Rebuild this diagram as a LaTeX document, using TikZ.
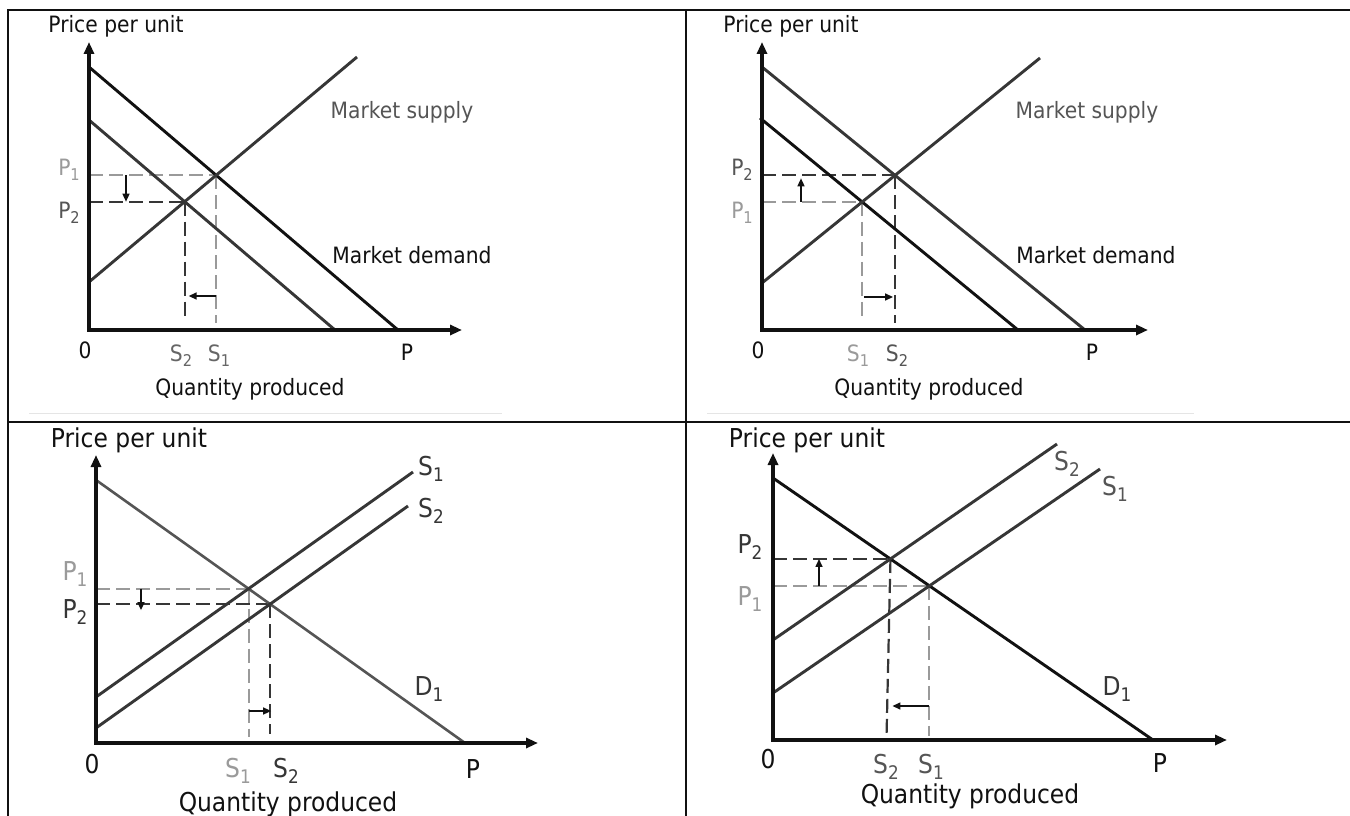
\documentclass[tikz,border=0pt]{standalone}
\usepackage{fontspec}
\setmainfont{DejaVu Sans Condensed}
\usetikzlibrary{arrows.meta}
\definecolor{ink}{HTML}{111111}
\definecolor{dk}{HTML}{363636}
\definecolor{gr}{HTML}{555555}
\definecolor{md}{HTML}{666666}
\definecolor{lt}{HTML}{9A9A9A}
\newcommand{\sbs}[1]{\raisebox{-0.24em}{\scalebox{0.72}{#1}}}
\tikzset{
  frame/.style={line width=1.8pt, draw=ink},
  faintline/.style={line width=1pt, draw=black!10},
  axes/.style={line width=3.4pt, draw=ink, line join=miter, {Triangle[length=12pt,width=10pt]}-{Triangle[length=12pt,width=10pt]}},
  curveblk/.style={line width=2.9pt, draw=ink},
  curvedk/.style={line width=2.9pt, draw=dk},
  curvegr/.style={line width=2.6pt, draw=gr},
  dashdk/.style={line width=2.2pt, draw=dk, dash pattern=on 14pt off 6pt},
  dashlt/.style={line width=2pt, draw=lt, dash pattern=on 14pt off 6pt},
  shiftarr/.style={line width=1.5pt, draw=ink, -{Triangle[length=8pt,width=7pt]}},
  toptxt/.style={inner sep=0pt, anchor=base, font=\fontsize{22.5}{27}\selectfont},
  bottxt/.style={inner sep=0pt, anchor=base, font=\fontsize{26}{31}\selectfont},
  toplab/.style={inner sep=0pt, anchor=base, font=\fontsize{22.5}{27}\selectfont},
  botlab/.style={inner sep=0pt, anchor=base, font=\fontsize{26}{31}\selectfont},
}
\begin{document}
\begin{tikzpicture}[x=1pt,y=-1pt]
\useasboundingbox (0,0) rectangle (1350,816);
\fill[white] (0,0) rectangle (1350,816);
% ---------- frame ----------
\coordinate (fBL) at (8,816); \coordinate (fTL) at (8,10); \coordinate (fTR) at (1350,10);
\coordinate (vT) at (686,10); \coordinate (vB) at (686,816);
\coordinate (hL) at (8,422); \coordinate (hR) at (1350,422);
\coordinate (g1a) at (29,413); \coordinate (g1b) at (502,413);
\coordinate (g2a) at (707,413); \coordinate (g2b) at (1194,413);
\draw[frame] (fBL) -- (fTL) -- (fTR);
\draw[frame] (vT) -- (vB);
\draw[frame] (hL) -- (hR);
\draw[faintline] (g1a) -- (g1b);
\draw[faintline] (g2a) -- (g2b);

% ================= Panel A (top left) =================
\coordinate (aO) at (89,330); \coordinate (aY) at (89,42); \coordinate (aX) at (462,330);
\coordinate (aDo1) at (89,67); \coordinate (aDo2) at (398,330);
\coordinate (aDi1) at (89,120); \coordinate (aDi2) at (335,330);
\coordinate (aS1) at (89,282); \coordinate (aS2) at (357,57);
\coordinate (aE1) at (intersection of aS1--aS2 and aDo1--aDo2);
\coordinate (aE2) at (intersection of aS1--aS2 and aDi1--aDi2);
\coordinate (aV1) at (0,323); \coordinate (aV2) at (0,318);
\coordinate (aAx) at (126,0); \coordinate (aAy) at (0,296);
\draw[dashlt] (aE1 -| aO) -- (aE1);
\draw[dashlt] (aE1) -- (aE1 |- aV1);
\draw[dashdk] (aE2 -| aO) -- (aE2);
\draw[dashdk] (aE2) -- (aE2 |- aV2);
\draw[curveblk] (aDo1) -- (aDo2);
\draw[curvedk] (aDi1) -- (aDi2);
\draw[curvedk] (aS1) -- (aS2);
\draw[axes] (aY) -- (aO) -- (aX);
\draw[shiftarr] (aAx |- aE1) -- (aAx |- aE2);
\draw[shiftarr] (aE1 |- aAy) -- ([xshift=4pt]aE2 |- aAy);
\node[toptxt, text=ink] (aTy) at (116,33) {Price per unit};
\node[toptxt, text=gr] (aTs) at (402,118) {Market supply};
\node[toptxt, text=ink] (aTd) at (412,263) {Market demand};
\node[toptxt, text=ink] (aTq) at (250,395) {Quantity produced};
\node[toplab, text=lt] (aP1) at (69,175) {P\sbs{1}};
\node[toplab, text=gr] (aP2) at (69,218) {P\sbs{2}};
\node[toplab, text=ink] (a0) at (85,358) {0};
\node[toplab, text=ink] (aP) at (407,360) {P};
\node[toplab, text=md] (aQ2) at (181,361) {S\sbs{2}};
\node[toplab, text=md] (aQ1) at (219,361) {S\sbs{1}};

% ================= Panel B (top right) =================
\coordinate (bO) at (762,330); \coordinate (bY) at (762,42); \coordinate (bX) at (1148,330);
\coordinate (bDo1) at (762,67); \coordinate (bDo2) at (1085,330);
\coordinate (bDi1) at (760,118); \coordinate (bDi2) at (1018,330);
\coordinate (bS1) at (762,283); \coordinate (bS2) at (1040,58);
\coordinate (bE2) at (intersection of bS1--bS2 and bDo1--bDo2);
\coordinate (bE1) at (intersection of bS1--bS2 and bDi1--bDi2);
\coordinate (bV1) at (0,320); \coordinate (bV2) at (0,323);
\coordinate (bAx) at (801,0); \coordinate (bAy) at (0,297); \coordinate (bAs) at (864,0);
\draw[dashdk] (bE2 -| bO) -- (bE2);
\draw[dashdk] (bE2) -- (bE2 |- bV2);
\draw[dashlt] (bE1 -| bO) -- (bE1);
\draw[dashlt] (bE1) -- (bE1 |- bV1);
\draw[curvedk] (bDo1) -- (bDo2);
\draw[curveblk] (bDi1) -- (bDi2);
\draw[curvedk] (bS1) -- (bS2);
\draw[axes] (bY) -- (bO) -- (bX);
\draw[shiftarr] (bAx |- bE1) -- ([yshift=-3pt]bAx |- bE2);
\draw[shiftarr] (bAs |- bAy) -- ([xshift=-2pt]bE2 |- bAy);
\node[toptxt, text=ink] (bTy) at (791,33) {Price per unit};
\node[toptxt, text=gr] (bTs) at (1087,118) {Market supply};
\node[toptxt, text=ink] (bTd) at (1096,263) {Market demand};
\node[toptxt, text=ink] (bTq) at (929,395) {Quantity produced};
\node[toplab, text=gr] (bP2) at (742,175) {P\sbs{2}};
\node[toplab, text=lt] (bP1) at (742,218) {P\sbs{1}};
\node[toplab, text=ink] (b0) at (758,358) {0};
\node[toplab, text=ink] (bP) at (1092,360) {P};
\node[toplab, text=lt] (bQ1) at (858,361) {S\sbs{1}};
\node[toplab, text=gr] (bQ2) at (897,361) {S\sbs{2}};

% ================= Panel C (bottom left) =================
\coordinate (cO) at (96,743); \coordinate (cY) at (96,455); \coordinate (cX) at (538,743);
\coordinate (cD1) at (96,480); \coordinate (cD2) at (465,743);
\coordinate (cSa1) at (96,697); \coordinate (cSa2) at (413,472);
\coordinate (cSb1) at (96,728); \coordinate (cSb2) at (408,506);
\coordinate (cE1) at (intersection of cSa1--cSa2 and cD1--cD2);
\coordinate (cE2) at (intersection of cSb1--cSb2 and cD1--cD2);
\coordinate (cV1) at (0,737); \coordinate (cV2) at (0,734);
\coordinate (cAx) at (141,0); \coordinate (cAy) at (0,711);
\draw[dashlt] (cE1 -| cO) -- (cE1);
\draw[dashlt] (cE1) -- (cE1 |- cV1);
\draw[dashdk] (cE2 -| cO) -- (cE2);
\draw[dashdk] (cE2) -- (cE2 |- cV2);
\draw[curvegr] (cD1) -- (cD2);
\draw[curvedk] (cSa1) -- (cSa2);
\draw[curvedk] (cSb1) -- (cSb2);
\draw[axes] (cY) -- (cO) -- (cX);
\draw[shiftarr] (cAx |- cE1) -- ([yshift=-6pt]cAx |- cE2);
\draw[shiftarr] (cE1 |- cAy) -- ([xshift=1pt]cE2 |- cAy);
\node[bottxt, text=ink] (cTy) at (129,447) {Price per unit};
\node[bottxt, text=ink] (cTq) at (288,811) {Quantity produced};
\node[botlab, text=dk] (cL1) at (431,475) {S\sbs{1}};
\node[botlab, text=dk] (cL2) at (431,517) {S\sbs{2}};
\node[botlab, text=dk] (cLd) at (429,695) {D\sbs{1}};
\node[botlab, text=lt] (cP1) at (75,580) {P\sbs{1}};
\node[botlab, text=dk] (cP2) at (75,618) {P\sbs{2}};
\node[botlab, text=ink] (c0) at (92,773) {0};
\node[botlab, text=ink] (cP) at (473,778) {P};
\node[botlab, text=lt] (cQ1) at (238,777) {S\sbs{1}};
\node[botlab, text=dk] (cQ2) at (286,777) {S\sbs{2}};

% ================= Panel D (bottom right) =================
\coordinate (dO) at (773,740); \coordinate (dY) at (773,453); \coordinate (dX) at (1227,740);
\coordinate (dD1) at (773,478); \coordinate (dD2) at (1153,740);
\coordinate (dSb1) at (773,640); \coordinate (dSb2) at (1057,444);
\coordinate (dSa1) at (773,693); \coordinate (dSa2) at (1100,469);
\coordinate (dE2) at (intersection of dSb1--dSb2 and dD1--dD2);
\coordinate (dE1) at (intersection of dSa1--dSa2 and dD1--dD2);
\coordinate (dV1) at (0,736); \coordinate (dV2) at (0,740);
\coordinate (dAx) at (819,0); \coordinate (dAy) at (0,706);
\draw[dashdk] (dE2 -| dO) -- (dE2);
\draw[dashdk] (dE2) -- ([xshift=-4pt]dE2 |- dV2);
\draw[dashlt] (dE1 -| dO) -- (dE1);
\draw[dashlt] (dE1) -- (dE1 |- dV1);
\draw[curveblk] (dD1) -- (dD2);
\draw[curvedk] (dSb1) -- (dSb2);
\draw[curvedk] (dSa1) -- (dSa2);
\draw[axes] (dY) -- (dO) -- (dX);
\draw[shiftarr] (dAx |- dE1) -- (dAx |- dE2);
\draw[shiftarr] (dE1 |- dAy) -- ([xshift=2pt]dE2 |- dAy);
\node[bottxt, text=ink] (dTy) at (807,447) {Price per unit};
\node[bottxt, text=ink] (dTq) at (970,803) {Quantity produced};
\node[botlab, text=gr] (dL2) at (1067,470) {S\sbs{2}};
\node[botlab, text=gr] (dL1) at (1115,495) {S\sbs{1}};
\node[botlab, text=dk] (dLd) at (1117,695) {D\sbs{1}};
\node[botlab, text=dk] (dP2) at (750,553) {P\sbs{2}};
\node[botlab, text=lt] (dP1) at (750,605) {P\sbs{1}};
\node[botlab, text=ink] (d0) at (768,768) {0};
\node[botlab, text=ink] (dP) at (1160,772) {P};
\node[botlab, text=gr] (dQ2) at (886,773) {S\sbs{2}};
\node[botlab, text=gr] (dQ1) at (931,773) {S\sbs{1}};
\end{tikzpicture}
\end{document}
